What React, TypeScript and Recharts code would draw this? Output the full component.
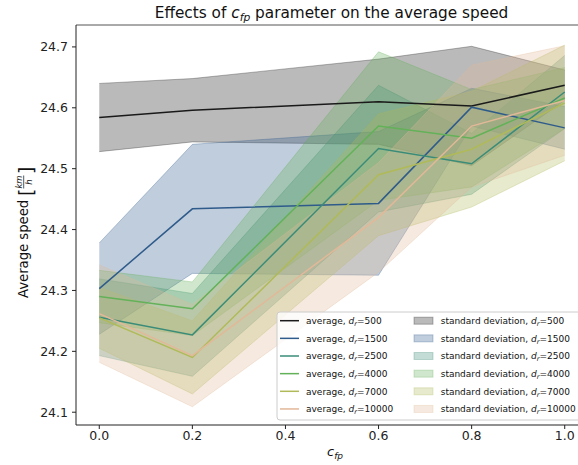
import React from "react";
import {
  Area,
  ComposedChart,
  Line,
  ReferenceLine,
  XAxis,
  YAxis,
} from "recharts";

// c_fp values where the simulation was run
const cfp = [0, 0.2, 0.6, 0.8, 1.0];

// average speed per distance d_r
const mean500 = [24.584, 24.596, 24.61, 24.603, 24.637];
const mean1500 = [24.303, 24.434, 24.443, 24.601, 24.567];
const mean2500 = [24.256, 24.227, 24.533, 24.508, 24.626];
const mean4000 = [24.29, 24.27, 24.57, 24.55, 24.616];
const mean7000 = [24.255, 24.19, 24.49, 24.532, 24.608];
const mean10000 = [24.262, 24.193, 24.42, 24.57, 24.612];

// standard deviation per distance d_r
const std500 = [0.056, 0.052, 0.07, 0.098, 0.025];
const std1500 = [0.075, 0.106, 0.118, 0.031, 0.035];
const std2500 = [0.063, 0.068, 0.104, 0.05, 0.06];
const std4000 = [0.043, 0.044, 0.122, 0.08, 0.05];
const std7000 = [0.05, 0.06, 0.1, 0.095, 0.095];
const std10000 = [0.08, 0.084, 0.09, 0.1, 0.09];

const distances = [500, 1500, 2500, 4000, 7000, 10000];
const means = [mean500, mean1500, mean2500, mean4000, mean7000, mean10000];
const stds = [std500, std1500, std2500, std4000, std7000, std10000];
const colors = ["#1a1a1a", "#2f5b8b", "#3a8c78", "#63b158", "#b0ba58", "#e2b898"];

const xTicks = [0, 0.2, 0.4, 0.6, 0.8, 1.0];
const yTicks = [24.1, 24.2, 24.3, 24.4, 24.5, 24.6, 24.7];
const yDomain: [number, number] = [24.079, 24.736];

const rows = cfp.map((c, i) => {
  const row: Record<string, any> = { cfp: c };
  distances.forEach((d, k) => {
    row[`m${d}`] = means[k][i];
    row[`b${d}`] = [means[k][i] - stds[k][i], means[k][i] + stds[k][i]];
  });
  return row;
});

const font = "DejaVu Sans";

const Dr = ({ d }: { d: number }) => (
  <>
    <tspan fontStyle="italic">d</tspan>
    <tspan fontStyle="italic" fontSize={6.5} dy={2}>r</tspan>
    <tspan dy={-2}>{`=${d}`}</tspan>
  </>
);

const Overlay = () => {
  const rowY = (i: number) => 320.7 + i * 17.65;
  return (
    <svg
      width={578}
      height={465}
      style={{ position: "absolute", left: 0, top: 0, pointerEvents: "none" }}
      fontFamily={font}
    >
      {/* title */}
      <text x={331.5} y={18} fontSize={15.3} textAnchor="middle" fill="#111">
        Effects of <tspan fontStyle="italic">c</tspan>
        <tspan fontStyle="italic" fontSize={10.7} dy={3}>fp</tspan>
        <tspan dy={-3}> parameter on the average speed</tspan>
      </text>

      {/* y label */}
      <g transform="translate(28,228) rotate(-90)" fill="#111">
        <text x={-70} y={0} fontSize={13.2}>Average speed</text>
        <text x={32} y={5} fontSize={19}>[</text>
        <text x={46} y={-6.5} fontSize={8.5} fontStyle="italic" textAnchor="middle">km</text>
        <line x1={39.5} x2={52.5} y1={-4.3} y2={-4.3} stroke="#111" strokeWidth={0.7} />
        <text x={46} y={3.8} fontSize={8.5} fontStyle="italic" textAnchor="middle">h</text>
        <text x={54} y={5} fontSize={19}>]</text>
      </g>

      {/* x label */}
      <text x={327} y={456} fontSize={13} fill="#111" fontStyle="italic">
        c<tspan fontSize={9} dy={3}>fp</tspan>
      </text>

      {/* legend */}
      <rect x={277} y={312} width={316} height={108} rx={3} fill="#fff" fillOpacity={0.8} stroke="#cccccc" strokeWidth={1} />
      {distances.map((d, i) => (
        <g key={d} fontSize={9} fill="#111">
          <line x1={280} x2={299} y1={rowY(i)} y2={rowY(i)} stroke={colors[i]} strokeWidth={1.5} />
          <text x={306} y={rowY(i) + 3.3}>
            average, <Dr d={d} />
          </text>
          <rect x={414} y={rowY(i) - 3.5} width={19} height={7} fill={colors[i]} fillOpacity={0.3} stroke={colors[i]} strokeOpacity={0.3} />
          <text x={440.7} y={rowY(i) + 3.3}>
            standard deviation, <Dr d={d} />
          </text>
        </g>
      ))}
    </svg>
  );
};

export default function App() {
  return (
    <div style={{ position: "absolute", left: 0, top: 0, width: 578, height: 465, overflow: "hidden", background: "#fff" }}>
      <ComposedChart
        width={600}
        height={465}
        data={rows}
        margin={{ top: 25, right: 12, bottom: 0, left: 16 }}
        style={{ fontFamily: font }}
      >
        <XAxis
          dataKey="cfp"
          type="number"
          domain={[-0.05, 1.05]}
          ticks={xTicks}
          tickFormatter={(v: number) => v.toFixed(1)}
          height={40}
          tickSize={4}
          tickMargin={2}
          stroke="#222"
          tick={{ fontSize: 12.5, fill: "#222" }}
          allowDataOverflow
        />
        <YAxis
          type="number"
          domain={yDomain}
          ticks={yTicks}
          tickFormatter={(v: number) => v.toFixed(1)}
          width={60}
          tickSize={4}
          tickMargin={4}
          stroke="#222"
          tick={{ fontSize: 12.5, fill: "#222" }}
          allowDataOverflow
        />
        <ReferenceLine y={yDomain[1]} stroke="#555" strokeWidth={1} />
        {distances.map((d, i) => (
          <Area
            key={`b${d}`}
            type="linear"
            dataKey={`b${d}`}
            fill={colors[i]}
            fillOpacity={0.3}
            stroke={colors[i]}
            strokeOpacity={0.3}
            strokeWidth={1}
            isAnimationActive={false}
            activeDot={false}
          />
        ))}
        {distances.map((d, i) => (
          <Line
            key={`m${d}`}
            type="linear"
            dataKey={`m${d}`}
            stroke={colors[i]}
            strokeWidth={1.5}
            dot={false}
            isAnimationActive={false}
          />
        ))}
      </ComposedChart>
      <Overlay />
    </div>
  );
}
